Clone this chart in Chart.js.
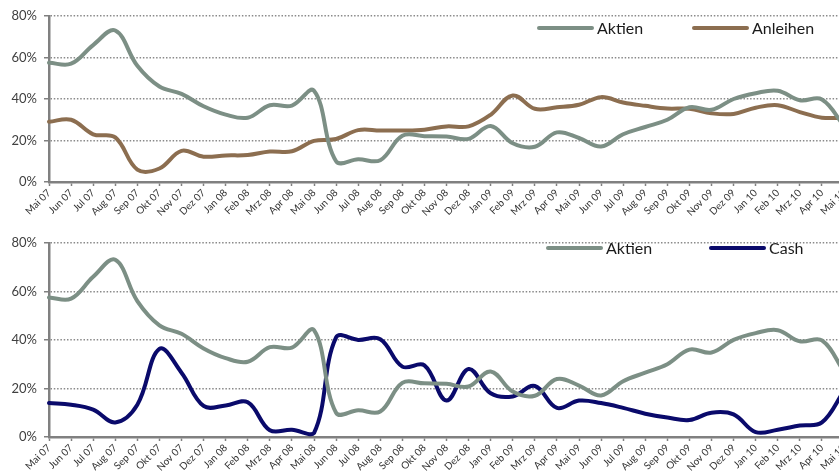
<!DOCTYPE html>
<html>
<head>
<meta charset="utf-8">
<script src="https://cdn.jsdelivr.net/npm/chart.js@4.4.1/dist/chart.umd.min.js"></script>
<style>
  html, body { margin: 0; padding: 0; background: #fff; overflow: hidden; }
  .box { position: absolute; left: 0; width: 870px; }
  #oben { top: 0; height: 228px; }
  #unten { top: 228px; height: 246px; }
</style>
</head>
<body>
<div class="box" id="oben"><canvas id="grafico-oben"></canvas></div>
<div class="box" id="unten"><canvas id="grafico-unten"></canvas></div>
<script>
// Monate (x-Achse)
const monate = ['Mai 07','Jun 07','Jul 07','Aug 07','Sep 07','Okt 07','Nov 07','Dez 07',
  'Jan 08','Feb 08','Mrz 08','Apr 08','Mai 08','Jun 08','Jul 08','Aug 08','Sep 08','Okt 08','Nov 08','Dez 08',
  'Jan 09','Feb 09','Mrz 09','Apr 09','Mai 09','Jun 09','Jul 09','Aug 09','Sep 09','Okt 09','Nov 09','Dez 09',
  'Jan 10','Feb 10','Mrz 10','Apr 10','Mai 10'];

// Anteile in %
const aktien = [57.5, 57, 66, 73, 56, 46, 42.5, 36.5, 32.5, 31, 37, 36.8, 44, 10, 11, 10.5, 22.3, 22.1, 21.9, 20.8,
  27, 18.7, 17, 23.9, 21.2, 17.1, 23, 26.5, 30, 36, 34.8, 40, 42.8, 44, 39.4, 39.8, 27];
const anleihen = [29, 30, 23, 21.5, 6, 6.5, 15, 12.2, 12.8, 13, 14.7, 14.8, 19.8, 20.7, 25, 24.8, 24.8, 25.2, 26.8, 26.8,
  32.4, 41.7, 35.3, 36, 37.2, 40.9, 38.3, 36.7, 35.4, 35.3, 33.1, 32.8, 35.8, 37, 33.7, 31, 31];
const cash = [14, 13.3, 11.3, 6, 13.3, 36.3, 26.5, 12.8, 13, 14.3, 2.8, 3, 1.6, 41, 40, 40.3, 29, 29.5, 15, 28,
  18, 16.7, 21, 12, 15, 14, 12, 9.6, 8, 7, 10, 9.3, 2, 3, 4.7, 6, 19];

// Y-Achse
const yTicks = [0, 20, 40, 60, 80];

const corAktien = '#7c8f85';
const corAnleihen = '#8c6e50';
const corCash = '#0a0a6b';

// Legende als Linie + Text, frei platziert im Diagramm
const legendaLinha = {
  id: 'legendaLinha',
  afterDraw(chart, args, opts) {
    const ctx = chart.ctx;
    ctx.save();
    chart.data.datasets.forEach(function (ds, i) {
      const x = opts.xs[i];
      ctx.strokeStyle = ds.borderColor;
      ctx.lineWidth = 4;
      ctx.lineCap = 'round';
      ctx.beginPath();
      ctx.moveTo(x, opts.y);
      ctx.lineTo(x + opts.comp, opts.y);
      ctx.stroke();
      ctx.fillStyle = '#1a1a1a';
      ctx.font = '16px Lato';
      ctx.textBaseline = 'middle';
      ctx.fillText(ds.label, x + opts.comp + 5, opts.y + 1);
    });
    ctx.restore();
  }
};

function linha(label, data, cor) {
  return {
    label: label,
    data: data,
    borderColor: cor,
    backgroundColor: cor,
    borderWidth: 4,
    borderCapStyle: 'round',
    borderJoinStyle: 'round',
    pointRadius: 0,
    tension: 0.38,
    fill: false
  };
}

function opcoes(padTop, xHeight, legX, legY) {
  return {
    responsive: true,
    maintainAspectRatio: false,
    animation: false,
    layout: { padding: { top: padTop, left: 0, right: 26, bottom: 0 } },
    plugins: {
      legend: { display: false },
      tooltip: { enabled: false },
      legendaLinha: { xs: legX, y: legY, comp: 53 }
    },
    scales: {
      x: {
        offset: false,
        grid: { display: true, drawOnChartArea: false, drawTicks: true, tickLength: 4, tickColor: '#808080', tickWidth: 1.5 },
        border: { display: true, color: '#808080', width: 2.5 },
        ticks: {
          autoSkip: false, maxRotation: 45, minRotation: 45, padding: 1,
          color: '#333', font: { family: 'Lato', size: 10 }
        },
        afterFit: function (s) { s.height = xHeight; }
      },
      y: {
        min: 0, max: 80,
        afterBuildTicks: function (s) { s.ticks = yTicks.map(function (v) { return { value: v }; }); },
        grid: { color: '#8a8a8a', lineWidth: 1.5, tickLength: 5, tickColor: '#808080', tickWidth: 1.5 },
        border: { display: true, color: '#808080', width: 2.5, dash: [1.5, 1.8] },
        ticks: {
          padding: 7, color: '#404040', font: { family: 'Lato', size: 13 },
          callback: function (v) { return v + '%'; }
        },
        afterFit: function (s) { s.width = 49; }
      }
    }
  };
}

new Chart(document.getElementById('grafico-oben'), {
  type: 'line',
  data: {
    labels: monate,
    datasets: [linha('Aktien', aktien, corAktien), linha('Anleihen', anleihen, corAnleihen)]
  },
  options: opcoes(16, 46, [539, 694], 28),
  plugins: [legendaLinha]
});

new Chart(document.getElementById('grafico-unten'), {
  type: 'line',
  data: {
    labels: monate,
    datasets: [linha('Aktien', aktien, corAktien), linha('Cash', cash, corCash)]
  },
  options: opcoes(9, 37, [548, 711], 20),
  plugins: [legendaLinha]
});
</script>
</body>
</html>
